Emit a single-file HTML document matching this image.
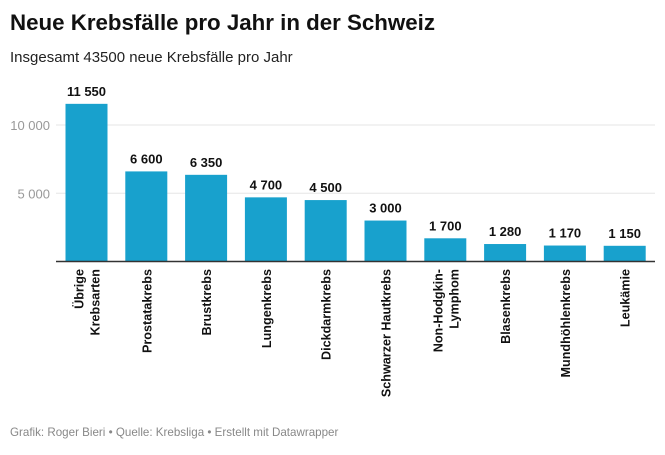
<!DOCTYPE html>
<html><head><meta charset="utf-8"><style>
body{margin:0;background:#fff;font-family:"Liberation Sans",sans-serif;}
</style></head><body>
<svg width="665" height="450" xmlns="http://www.w3.org/2000/svg">
<text x="10" y="30" font-size="22.3" font-weight="bold" fill="#111">Neue Krebsfälle pro Jahr in der Schweiz</text>
<text x="10" y="62" font-size="15" fill="#222">Insgesamt 43500 neue Krebsfälle pro Jahr</text>
<g id="plot"></g>
<text x="10" y="436" font-size="11.6" fill="#888">Grafik: Roger Bieri • Quelle: Krebsliga • Erstellt mit Datawrapper</text>
</svg>
<script>
const categories=[["Übrige","Krebsarten"],["Prostatakrebs"],["Brustkrebs"],["Lungenkrebs"],["Dickdarmkrebs"],["Schwarzer Hautkrebs"],["Non-Hodgkin-","Lymphom"],["Blasenkrebs"],["Mundhöhlenkrebs"],["Leukämie"]];
const values=[11550,6600,6350,4700,4500,3000,1700,1280,1170,1150];
const valueLabels=["11 550","6 600","6 350","4 700","4 500","3 000","1 700","1 280","1 170","1 150"];
const ticks=[5000,10000];
const tickLabels=["5 000","10 000"];
const NS="http://www.w3.org/2000/svg";
const g=document.getElementById('plot');
const x0=56,x1=655,base=261.5,step=59.8,bw=42;
const y=v=>base-v*136.5/10000;
const xc=i=>86.5+i*step;
function el(t,a,txt){const e=document.createElementNS(NS,t);for(const k in a)e.setAttribute(k,a[k]);if(txt!=null)e.textContent=txt;g.appendChild(e);return e;}
ticks.forEach((t,i)=>{
 const l=el('line',{x1:x0,x2:x1,y1:y(t),y2:y(t),stroke:'#e6e6e6','stroke-width':1});
 
 
 const tx=el('text',{x:50,y:y(t)+5,'text-anchor':'end','font-size':13,fill:'#999'},tickLabels[i]);
 
 
});
values.forEach((v,i)=>{
 const r=el('rect',{x:xc(i)-bw/2,y:y(v),width:bw,height:base-y(v),fill:'#18a1cd'});
 
 
 const t=el('text',{x:xc(i),y:y(v)-8,'text-anchor':'middle','font-size':13,'font-weight':'bold',fill:'#111'},valueLabels[i]);
 
 
 const lines=categories[i];
 lines.forEach((s,j)=>{
  const off=(j-(lines.length-1)/2)*16+5;
  const c=el('text',{transform:`translate(${xc(i)+off},269) rotate(-90)`,'text-anchor':'end','font-size':12.6,'font-weight':'bold',fill:'#111'},s);
  
  
 });
});
const b=el('line',{x1:x0,x2:x1,y1:base,y2:base,stroke:'#333','stroke-width':1.5});


</script>
</body></html>
